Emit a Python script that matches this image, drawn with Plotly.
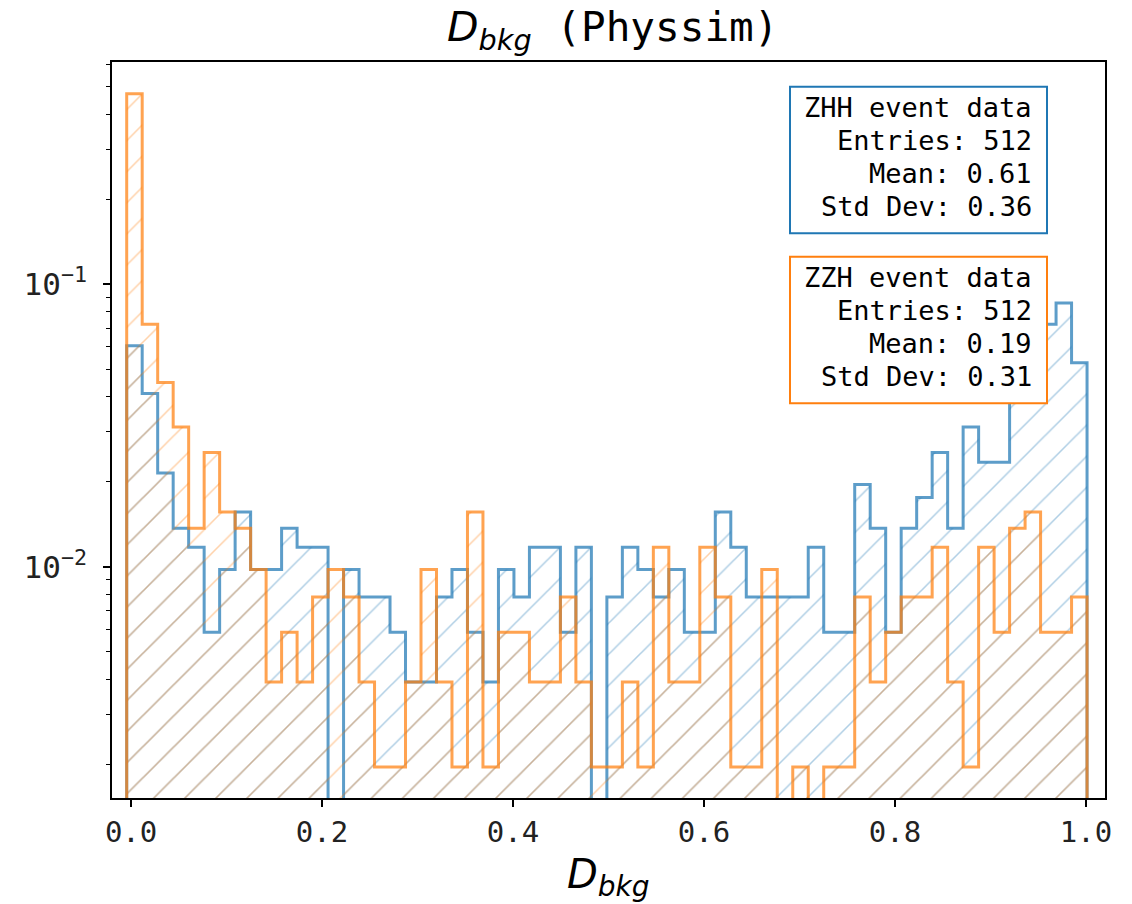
import numpy as np
import plotly.graph_objects as go

# ---------------- data ----------------
entries = 512
n_bins = 62
bin_lo = -0.0046
bin_hi = 1.0012

zhh_counts = [31, 21, 11, 7, 6, 3, 5, 8, 5, 5,
              7, 6, 6, 0, 5, 4, 4, 3, 2, 2,
              4, 5, 3, 2, 5, 4, 6, 6, 3, 6,
              0, 4, 6, 5, 4, 5, 3, 3, 8, 6,
              4, 4, 4, 4, 6, 3, 3, 10, 7, 3,
              7, 9, 13, 7, 16, 12, 12, 24, 27, 37,
              44, 27]
zzh_counts = [242, 37, 23, 16, 7, 13, 8, 7, 5, 2,
              3, 2, 4, 5, 4, 2, 1, 1, 2, 5,
              2, 1, 8, 1, 3, 3, 2, 2, 4, 2,
              1, 1, 2, 1, 6, 2, 2, 6, 4, 1,
              1, 5, 0, 1, 0, 1, 1, 4, 2, 3,
              4, 4, 6, 2, 1, 6, 3, 7, 8, 3,
              3, 4]

zhh_stats = ["ZHH event data", "Entries: 512", "Mean: 0.61", "Std Dev: 0.36"]
zzh_stats = ["ZZH event data", "Entries: 512", "Mean: 0.19", "Std Dev: 0.31"]

x_ticks = [0.0, 0.2, 0.4, 0.6, 0.8, 1.0]
x_ticktext = ["0.0", "0.2", "0.4", "0.6", "0.8", "1.0"]
y_ticks = [0.01, 0.1]
y_ticktext = ["10<sup>\u22122</sup>", "10<sup>\u22121</sup>"]
y_minor = [0.002, 0.003, 0.004, 0.005, 0.006, 0.007, 0.008, 0.009,
           0.02, 0.03, 0.04, 0.05, 0.06, 0.07, 0.08, 0.09,
           0.2, 0.3, 0.4, 0.5, 0.6]

# ---------------- layout constants ----------------
W, H = 1132, 904
ML, MR, MT, MB = 112, 27, 62, 106
PW, PH = W - ML - MR, H - MT - MB
MONO = "DejaVu Sans Mono"
SANS = "DejaVu Sans"

BLUE = "rgba(31,119,180,0.72)"
ORANGE = "rgba(255,127,14,0.72)"


def px_x(px):
    return (px - ML) / PW


def px_y(py):
    return (H - MB - py) / PH


edges = np.linspace(bin_lo, bin_hi, n_bins + 1)
FLOOR = 1e-7


def step_polygon(counts):
    vals = [c / entries if c > 0 else FLOOR for c in counts]
    xs = [edges[0]]
    ys = [FLOOR]
    for i, v in enumerate(vals):
        xs += [edges[i], edges[i + 1]]
        ys += [v, v]
    xs.append(edges[-1])
    ys.append(FLOOR)
    return xs, ys


fig = go.Figure()
for counts, col, name in [(zhh_counts, BLUE, "ZHH"), (zzh_counts, ORANGE, "ZZH")]:
    xs, ys = step_polygon(counts)
    fig.add_trace(go.Scatter(
        x=xs, y=ys, mode="lines", name=name,
        line=dict(color=col, width=3),
        fill="toself", fillcolor="rgba(0,0,0,0)",
        fillpattern=dict(shape="/", fgcolor=col, bgcolor="rgba(0,0,0,0)",
                         size=22, solidity=0.07),
        hoverinfo="skip", showlegend=False,
    ))

fig.update_layout(
    width=W, height=H,
    margin=dict(l=ML, r=MR, t=MT, b=MB),
    paper_bgcolor="white", plot_bgcolor="white",
    showlegend=False,
    font=dict(family=MONO, color="black"),
)

fig.update_xaxes(
    range=[-0.02, 1.02],
    tickmode="array", tickvals=x_ticks, ticktext=x_ticktext,
    ticks="outside", ticklen=7, tickwidth=1.5, tickcolor="black",
    tickfont=dict(family=MONO, size=29, color="#222"),
    showgrid=False, zeroline=False,
    showline=True, linecolor="black", linewidth=1.6, mirror=True,
)
fig.update_yaxes(
    type="log", range=[-2.819, -0.2128],
    tickmode="array", tickvals=y_ticks, ticktext=y_ticktext,
    ticks="outside", ticklen=7, tickwidth=1.5, tickcolor="black",
    tickfont=dict(family=MONO, size=31, color="#222"),
    ticklabelstandoff=10,
    minor=dict(tickmode="array", tickvals=y_minor, ticks="outside",
               ticklen=4, tickwidth=1.2, tickcolor="black", showgrid=False),
    showgrid=False, zeroline=False,
    showline=True, linecolor="black", linewidth=1.6, mirror=True,
)

# title and axis label
fig.add_annotation(
    xref="paper", yref="paper", x=px_x(612), y=px_y(30),
    xanchor="center", yanchor="middle", showarrow=False,
    text=f'<span style="font-family:{SANS}"><i>D</i><sub><i>bkg</i></sub></span>\u00a0(Physsim)',
    font=dict(family=MONO, size=41, color="black"),
)
fig.add_annotation(
    xref="paper", yref="paper", x=px_x(608), y=px_y(877),
    xanchor="center", yanchor="middle", showarrow=False,
    text="<i>D</i><sub><i>bkg</i></sub>",
    font=dict(family=SANS, size=40, color="black"),
)

# stats boxes
boxes = [(zhh_stats, "#1f77b4", 86.7, 233.3), (zzh_stats, "#ff7f0e", 256.7, 403.3)]
for lines, col, top, bot in boxes:
    fig.add_shape(type="rect", xref="paper", yref="paper",
                  x0=px_x(790), x1=px_x(1047), y0=px_y(bot), y1=px_y(top),
                  line=dict(color=col, width=2), fillcolor="white", layer="above")
    for k, txt in enumerate(lines):
        fig.add_annotation(
            xref="paper", yref="paper", x=px_x(1034), y=px_y(top + 21 + 33 * k),
            xanchor="right", yanchor="middle", showarrow=False,
            text=txt, font=dict(family=MONO, size=27, color="black"),
        )

fig.write_html("out.html")
